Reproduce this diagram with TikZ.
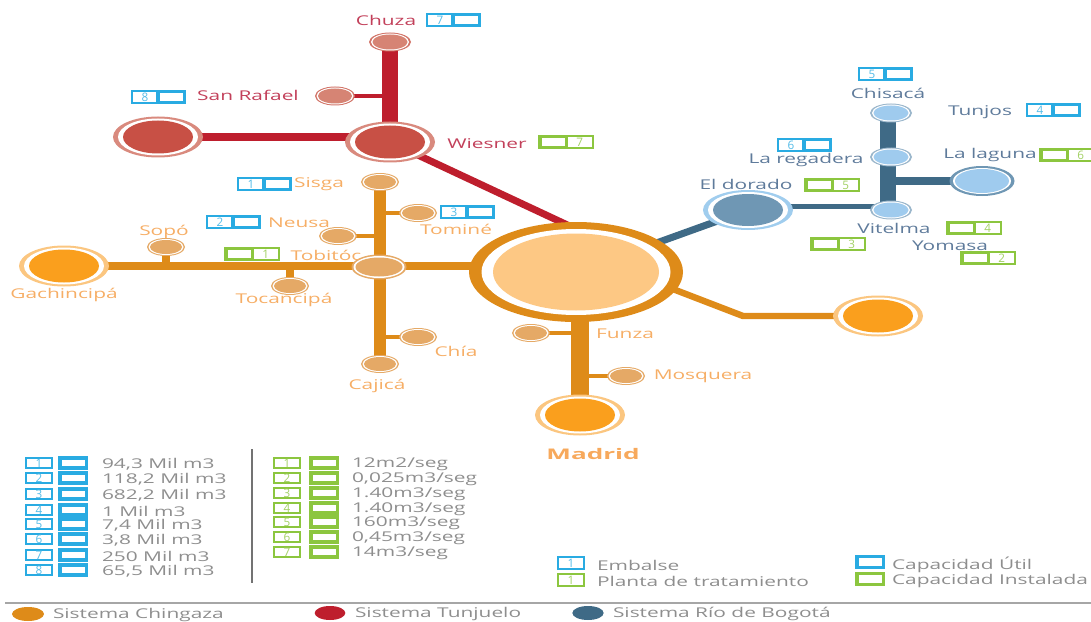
\documentclass[tikz,border=0pt]{standalone}
\usepackage{fontspec}
\setmainfont{Open Sans}
\usetikzlibrary{positioning}
\usetikzlibrary{backgrounds}
\usetikzlibrary{shapes.geometric}
\definecolor{chingaza}{HTML}{DE8B19}
\definecolor{chingazalight}{HTML}{FDC884}
\definecolor{chingazaring}{HTML}{FBC680}
\definecolor{chingazafill}{HTML}{FA9F1D}
\definecolor{chingazasmall}{HTML}{E5A966}
\definecolor{chingazatext}{HTML}{F6AE66}
\definecolor{tunjuelo}{HTML}{BE1E2D}
\definecolor{tunjueloring}{HTML}{D98A7E}
\definecolor{tunjuelofill}{HTML}{C85045}
\definecolor{tunjuelosmall}{HTML}{D68474}
\definecolor{tunjuelotext}{HTML}{C2405A}
\definecolor{bogota}{HTML}{3F6A86}
\definecolor{bogotaring}{HTML}{A0CDEE}
\definecolor{bogotafill}{HTML}{6F97B4}
\definecolor{bogotasmall}{HTML}{9FCBEE}
\definecolor{bogotatext}{HTML}{5F7B9B}
\definecolor{boxblue}{HTML}{29ABE2}
\definecolor{boxgreen}{HTML}{8CC63F}
\definecolor{legendtext}{HTML}{8E8E8E}
\tikzset{
  plant/.style n args={8}{ellipse,inner sep=0pt,outer sep=0pt,fill=#7,
    minimum width=#1*0.03cm,minimum height=#2*0.03cm,
    path picture={
      \fill[white] (path picture bounding box.center) ellipse [x radius=#3*0.015cm,y radius=#4*0.015cm];
      \fill[#8] (path picture bounding box.center) ellipse [x radius=#5*0.015cm,y radius=#6*0.015cm];
    }},
  bigplant/.style 2 args={plant={90}{41}{80}{37}{70}{33}{#1}{#2}},
  smallplant/.style 2 args={plant={38}{18}{35}{16}{32}{14}{#1}{#2}},
  lbl/.style={inner sep=0pt,outer sep=0pt,font=\fontsize{11.5}{12}\selectfont,xscale=1.55,yshift=-1pt},
  numbox/.style={draw=#1,fill=white,line width=1.5pt,inner sep=0pt,outer sep=0pt,
    minimum width=0.78cm,minimum height=0.34cm,font=\fontsize{10}{10}\selectfont,text=#1!80},
  capbox/.style={draw=#1,fill=white,line width=2.6pt,inner sep=0pt,outer sep=0pt,
    minimum width=0.80cm,minimum height=0.33cm},
}
\begin{document}
\begin{tikzpicture}[x=0.03cm,y=-0.03cm]
\useasboundingbox (0,0) rectangle (1091,622);
% plants
\node [plant={214}{100}{189}{86}{166}{77}{chingaza}{chingazalight}] (hub) at (576,272) {};
\node [bigplant={tunjueloring}{tunjuelofill}] (wiesner) at (390,142) {};
\node [bigplant={tunjueloring}{tunjuelofill}] (embalse) at (158,137) {};
\node [plant={42}{19}{38}{17}{35}{15}{tunjuelosmall!85!tunjuelo}{tunjuelosmall}] (chuza) at (390,42) {};
\node [plant={40}{19}{37}{17}{34}{15}{tunjuelosmall!85!tunjuelo}{tunjuelosmall}] (rafael) at (335,96) {};
\node [bigplant={chingazaring}{chingazafill}] (gachincipa) at (64,266) {};
\node [bigplant={chingazaring}{chingazafill}] (madrid) at (580,415) {};
\node [bigplant={chingazaring}{chingazafill}] (extra) at (878,316) {};
\node [plant={55}{25}{51}{22}{47}{19}{chingazasmall}{chingazasmall}] (tobitoc) at (379,267) {};
\node [smallplant={chingazasmall}{chingazasmall}] (sisga) at (380,182) {};
\node [smallplant={chingazasmall}{chingazasmall}] (tomine) at (418,213) {};
\node [smallplant={chingazasmall}{chingazasmall}] (neusa) at (338,236) {};
\node [smallplant={chingazasmall}{chingazasmall}] (sopo) at (166,247) {};
\node [smallplant={chingazasmall}{chingazasmall}] (tocancipa) at (290,286) {};
\node [smallplant={chingazasmall}{chingazasmall}] (chia) at (418,337) {};
\node [smallplant={chingazasmall}{chingazasmall}] (cajica) at (380,364) {};
\node [smallplant={chingazasmall}{chingazasmall}] (funza) at (531,333) {};
\node [smallplant={chingazasmall}{chingazasmall}] (mosquera) at (626,376) {};
\node [plant={90}{40}{80}{36}{70}{32}{bogotaring}{bogotafill}] (eldorado) at (748,210) {};
\node [plant={65}{30}{58}{26}{54}{24}{bogotafill}{bogotasmall}] (laguna) at (982,181) {};
\node [plant={42}{19}{38}{17}{35}{15}{bogotafill!70}{bogotasmall}] (chisaca) at (891,113) {};
\node [plant={42}{19}{38}{17}{35}{15}{bogotafill!70}{bogotasmall}] (regadera) at (891,157) {};
\node [plant={42}{19}{38}{17}{35}{15}{bogotafill!70}{bogotasmall}] (vitelma) at (891,210) {};
\coordinate (bend) at (743,316);

% connectors
\begin{scope}[on background layer]
\draw[tunjuelo,line width=13.5pt] (chuza.center) -- (wiesner.center);
\draw[tunjuelo,line width=3.4pt] (rafael.center) -- (rafael -| chuza);
\draw[tunjuelo,line width=6.5pt] (embalse.center) -- (embalse -| wiesner);
\draw[tunjuelo,line width=6pt] (wiesner.center) -- ([yshift=-6pt]hub.north);
\draw[chingaza,line width=6.5pt] (gachincipa.center) -- (gachincipa -| hub);
\draw[chingaza,line width=11pt] (sisga.center) -- (cajica.center);
\draw[chingaza,line width=6.5pt] (sopo.center) -- (sopo |- gachincipa);
\draw[chingaza,line width=6.5pt] (tocancipa.center) -- (tocancipa |- gachincipa);
\draw[chingaza,line width=3.4pt] (tomine.center) -- (tomine -| sisga);
\draw[chingaza,line width=3.4pt] (neusa.center) -- (neusa -| sisga);
\draw[chingaza,line width=3.4pt] (chia.center) -- (chia -| sisga);
\draw[chingaza,line width=16pt] (madrid |- hub) -- (madrid.center);
\draw[chingaza,line width=3.4pt] (funza.center) -- (funza -| madrid);
\draw[chingaza,line width=3.4pt] (mosquera.center) -- (mosquera -| madrid);
\draw[chingaza,line width=5.5pt,line join=round] ([xshift=-6pt]hub.-9) -- (bend) -- (extra.center);
\draw[bogota,line width=6pt] (eldorado.center) -- (hub.center);
\draw[bogota,line width=5pt] ([yshift=3pt]eldorado.center) -- ([yshift=3pt]vitelma.center);
\draw[bogota,line width=14pt] ([xshift=-2.5pt]chisaca.center) -- ([xshift=-2.5pt]vitelma.center);
\draw[bogota,line width=6.5pt] (laguna.center) -- (laguna -| vitelma);
\end{scope}

% names on the map
\foreach \id/\x/\y/\txt in {chuza/386/19/Chuza,rafael/248/94/San Rafael,wiesner/487/142/Wiesner}
  \node [lbl,text=tunjuelotext] (l\id) at (\x,\y) {\txt};
\foreach \id/\x/\y/\txt in {sisga/319/183/Sisga,neusa/299/222/Neusa,tomine/456/228/Tominé,sopo/164/231/Sopó,
  tobitoc/326/254/Tobitóc,gachincipa/64/294/Gachincipá,tocancipa/284/299/Tocancipá,chia/456/350/Chía,
  cajica/377/385/Cajicá,funza/625/333/Funza,mosquera/703/375/Mosquera}
  \node [lbl,text=chingazatext] (l\id) at (\x,\y) {\txt};
\node [lbl,text=chingazatext!90!orange,xscale=1.15,font=\fontsize{12.5}{13}\selectfont\bfseries] (lmadrid) at (593,453) {Madrid};
\foreach \id/\x/\y/\txt in {eldorado/746/183/El dorado,regadera/806/159/La regadera,chisaca/888/92/Chisacá,
  tunjos/980/111/Tunjos,laguna/990/154/La laguna,vitelma/894/227/Vitelma,yomasa/950/245/Yomasa}
  \node [lbl,text=bogotatext] (l\id) at (\x,\y) {\txt};

% boxes on the map
\foreach \n/\x/\y in {7/427/20,8/132/97,1/238/184,2/207/222,3/441/212,4/1027/110,5/859/74,6/778/145}{
  \node [numbox=boxblue,anchor=west] (bn\n) at (\x,\y) {\n};
  \node [capbox=boxblue,right=0pt of bn\n] (bc\n) {};
}
\foreach \n/\x/\y in {7/540/142,1/226/254,5/806/185,6/1041/155,4/948/228,3/812/244,2/962/258}{
  \node [capbox=boxgreen,anchor=west] (gc\n) at (\x,\y) {};
  \node [numbox=boxgreen,right=0pt of gc\n] (gn\n) {\n};
}

% legend
\foreach \n/\y/\txt in {1/463/{94,3 Mil m3},2/478/{118,2 Mil m3},3/494/{682,2 Mil m3},4/510/{1 Mil m3},
  5/524/{7,4 Mil m3},6/539/{3,8 Mil m3},7/555/{250 Mil m3},8/570/{65,5 Mil m3}}{
  \node [numbox=boxblue,anchor=west,minimum height=0.31cm] (lbn\n) at (26,\y) {\n};
  \node [capbox=boxblue,anchor=west,minimum height=0.30cm] (lbc\n) at (60,\y) {};
  \node [lbl,text=legendtext,anchor=west] (lbt\n) at (102,\y) {\txt};
}
\foreach \n/\y/\txt in {1/463/{12m2/seg},2/478/{0,025m3/seg},3/493/{1.40m3/seg},4/508/{1.40m3/seg},
  5/522/{160m3/seg},6/537/{0,45m3/seg},7/552/{14m3/seg}}{
  \node [numbox=boxgreen,anchor=west,minimum height=0.31cm] (lgn\n) at (274,\y) {\n};
  \node [capbox=boxgreen,anchor=west,minimum height=0.30cm] (lgc\n) at (311,\y) {};
  \node [lbl,text=legendtext,anchor=west] (lgt\n) at (352,\y) {\txt};
}
\coordinate (septop) at (252,449);
\coordinate (sepbot) at (252,583);
\draw[black!55,line width=2pt] (septop) -- (sepbot);

\node [numbox=boxblue,anchor=west] (kn1) at (558,563) {1};
\node [lbl,text=legendtext,anchor=west] (kt1) at (597,564) {Embalse};
\node [numbox=boxgreen,anchor=west] (kn2) at (558,580) {1};
\node [lbl,text=legendtext,anchor=west] (kt2) at (597,580) {Planta de tratamiento};
\node [capbox=boxblue,anchor=west] (kc1) at (857,562) {};
\node [lbl,text=legendtext,anchor=west] (kt3) at (892,564) {Capacidad Útil};
\node [capbox=boxgreen,anchor=west] (kc2) at (857,579) {};
\node [lbl,text=legendtext,anchor=west] (kt4) at (892,580) {Capacidad Instalada};

\coordinate (ruleleft) at (5,603);
\coordinate (ruleright) at (1091,603);
\draw[black!35,line width=1.7pt] (ruleleft) -- (ruleright);

\node [ellipse,fill=chingaza,inner sep=0pt,minimum width=0.96cm,minimum height=0.42cm] (sys1) at (28,614) {};
\node [lbl,text=legendtext,anchor=west] (st1) at (53,614) {Sistema Chingaza};
\node [ellipse,fill=tunjuelo,inner sep=0pt,minimum width=0.92cm,minimum height=0.42cm] (sys2) at (330,613) {};
\node [lbl,text=legendtext,anchor=west] (st2) at (355,613) {Sistema Tunjuelo};
\node [ellipse,fill=bogota,inner sep=0pt,minimum width=0.94cm,minimum height=0.42cm] (sys3) at (588,613) {};
\node [lbl,text=legendtext,anchor=west] (st3) at (613,613) {Sistema Río de Bogotá};
\end{tikzpicture}
\end{document}
